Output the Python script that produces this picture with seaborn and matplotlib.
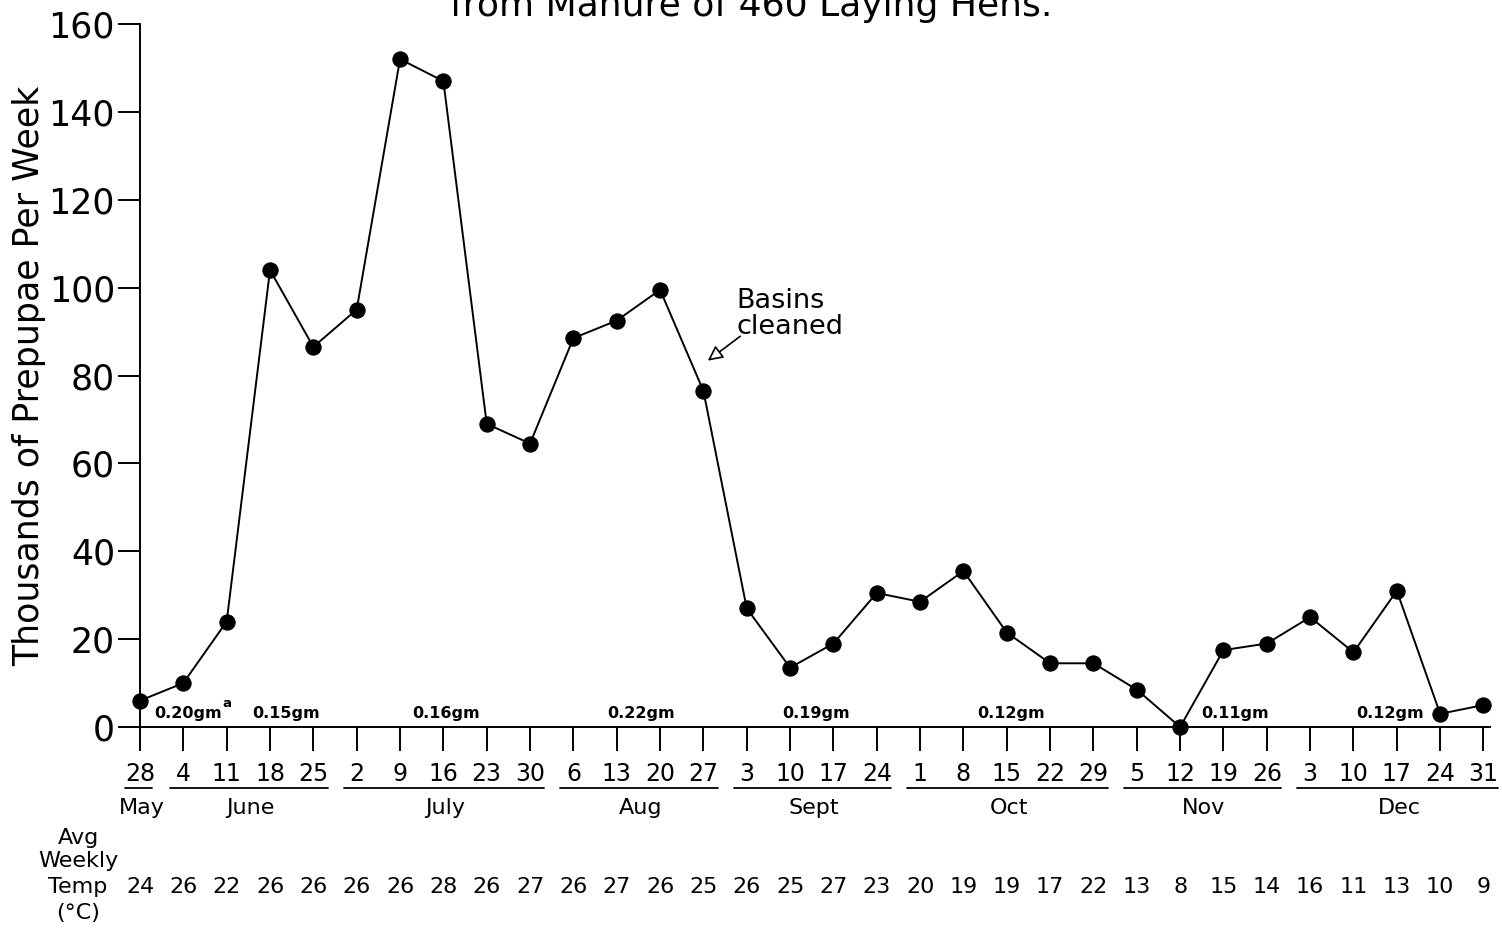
import numpy as np
import pandas as pd
import seaborn as sns
import matplotlib.pyplot as plt
import matplotlib.transforms as mtransforms
from matplotlib.lines import Line2D

# weekly dates (day of month) and month groups
days = [28, 4, 11, 18, 25, 2, 9, 16, 23, 30, 6, 13, 20, 27, 3, 10, 17, 24,
        1, 8, 15, 22, 29, 5, 12, 19, 26, 3, 10, 17, 24, 31]
month_of_week = (["May"] + ["June"] * 4 + ["July"] * 5 + ["Aug"] * 4 + ["Sept"] * 4
                 + ["Oct"] * 5 + ["Nov"] * 4 + ["Dec"] * 5)
months = ["May", "June", "July", "Aug", "Sept", "Oct", "Nov", "Dec"]

# thousands of prepupae per week
prepupae = [6, 10, 24, 104, 86.5, 95, 152, 147, 69, 64.5, 88.5, 92.5, 99.5, 76.5,
            27, 13.5, 19, 30.5, 28.5, 35.5, 21.5, 14.5, 14.5, 8.5, 0, 17.5, 19,
            25, 17, 31, 3, 5]

# average weekly temperature (C)
temps = [24, 26, 22, 26, 26, 26, 26, 28, 26, 27, 26, 27, 26, 25, 26, 25, 27, 23,
         20, 19, 19, 17, 22, 13, 8, 15, 14, 16, 11, 13, 10, 9]

# feeding rates printed along the axis
doses = ["0.20gm", "0.15gm", "0.16gm", "0.22gm", "0.19gm", "0.12gm", "0.11gm", "0.12gm"]
dose_x = [1.1, 3.38, 7.06, 11.57, 15.6, 20.1, 25.26, 28.85]

df = pd.DataFrame({"week": np.arange(len(days)), "prepupae": prepupae})

sns.set_style("ticks")
plt.rcParams["font.family"] = ["DejaVu Sans"]
plt.rcParams["text.color"] = "black"
plt.rcParams["axes.labelcolor"] = "black"
plt.rcParams["xtick.color"] = "black"
plt.rcParams["ytick.color"] = "black"
plt.rcParams["axes.edgecolor"] = "black"

fig = plt.figure(figsize=(15.02, 9.30), dpi=100)
ax = fig.add_axes([140 / 1502, 1 - 727 / 930, 1350 / 1502, 703 / 930])

sns.lineplot(data=df, x="week", y="prepupae", ax=ax, color="black", lw=1.4,
             marker="o", markersize=11, markerfacecolor="black",
             markeredgecolor="black", clip_on=False, zorder=3)

ax.set_xlim(0, 31.15)
ax.set_ylim(0, 160)
ax.set_yticks(range(0, 161, 20))
ax.set_xticks(df["week"])
ax.set_xticklabels([str(d) for d in days])
ax.tick_params(axis="y", labelsize=25, length=16, width=1.4, pad=2, direction="out")
ax.tick_params(axis="x", labelsize=17, length=17, width=1.4, pad=8, direction="out")
for s in ["top", "right"]:
    ax.spines[s].set_visible(False)
ax.spines["left"].set_linewidth(1.4)
ax.spines["bottom"].set_linewidth(1.4)
ax.set_xlabel("")
ax.set_ylabel("Thousands of Prepupae Per Week", fontsize=25, labelpad=2)

trans = mtransforms.blended_transform_factory(ax.transData, fig.transFigure)

def fy(py):
    return 1 - py / 930

# month underlines and names
wk = np.arange(len(days))
for m in months:
    idx = wk[[mm == m for mm in month_of_week]]
    x0, x1 = idx.min() - 0.3, idx.max() + 0.33
    if m == "May":
        x0, x1 = -0.35, 0.28
    ln = Line2D([x0, x1], [fy(788), fy(788)], transform=trans, color="black",
                lw=1.3, clip_on=False)
    ax.add_artist(ln)
    ax.text((idx.min() + idx.max()) / 2 + 0.05, fy(808), m, transform=trans,
            ha="center", va="center", fontsize=16)

# temperature row
for i, t in enumerate(temps):
    ax.text(i, fy(887), str(t), transform=trans, ha="center", va="center", fontsize=16)
for txt, py in [("Avg", 838), ("Weekly", 861), ("Temp", 887), ("(°C)", 913)]:
    fig.text(78 / 1502, fy(py), txt, ha="center", va="center", fontsize=16)

# dose labels
for d, x in zip(doses, dose_x):
    ax.text(x, 3.0, d, ha="center", va="center", fontsize=11.5, fontweight="bold")
ax.text(2.0, 5.4, "a", ha="center", va="center", fontsize=9.5, fontweight="bold")

# annotation
ax.annotate("", xy=(13.05, 83.0), xytext=(13.9, 89.3),
            arrowprops=dict(arrowstyle="-|>,head_length=0.9,head_width=0.45",
                            fc="white", ec="black", lw=1.2))
ax.text(13.76, 97, "Basins", ha="left", va="center", fontsize=19.5)
ax.text(13.76, 91, "cleaned", ha="left", va="center", fontsize=19.5)

# title (top line cut off in the original)
fig.text(0.5, fy(6), "from Manure of 460 Laying Hens.", ha="center", va="center",
         fontsize=26)

fig.savefig("out.png", dpi=100)
